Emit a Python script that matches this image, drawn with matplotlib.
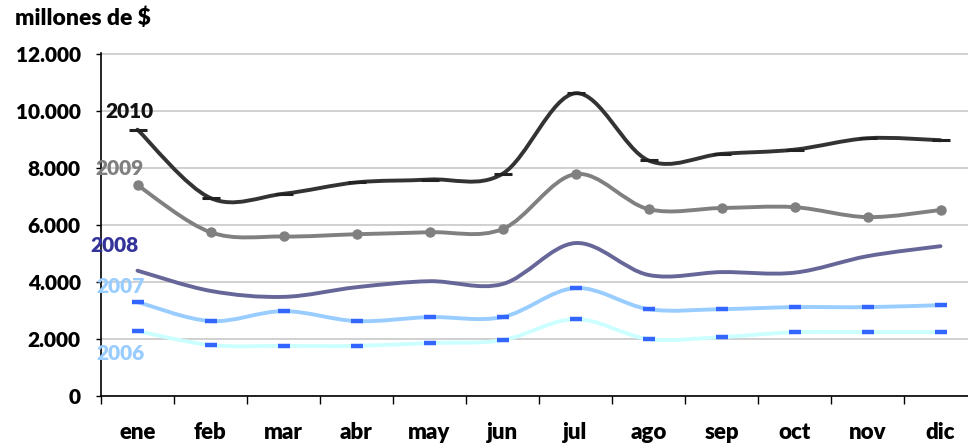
import matplotlib
matplotlib.use('Agg')
import matplotlib.pyplot as plt
from matplotlib.path import Path
from matplotlib.patches import PathPatch
import numpy as np

months = ['ene', 'feb', 'mar', 'abr', 'may', 'jun', 'jul', 'ago', 'sep', 'oct', 'nov', 'dic']
y2010 = [9350, 6950, 7100, 7500, 7600, 7800, 10630, 8270, 8500, 8650, 9050, 8980]
y2009 = [7400, 5750, 5600, 5680, 5750, 5860, 7790, 6560, 6600, 6630, 6280, 6530]
y2008 = [4400, 3690, 3480, 3820, 4030, 3930, 5370, 4250, 4350, 4330, 4910, 5260]
y2007 = [3300, 2630, 2980, 2630, 2770, 2770, 3790, 3050, 3050, 3120, 3120, 3190]
y2006 = [2280, 1790, 1760, 1760, 1860, 1960, 2700, 2000, 2070, 2240, 2240, 2240]
series_names = ['2010', '2009', '2008', '2007', '2006']
yticks = [0, 2000, 4000, 6000, 8000, 10000, 12000]
ytick_labels = ['0', '2.000', '4.000', '6.000', '8.000', '10.000', '12.000']

plt.rcParams['font.family'] = ['Lato', 'DejaVu Sans']
FW = 'heavy'


def smooth_path(xs, ys):
    pts = np.column_stack([xs, ys]).astype(float)
    n = len(pts)
    verts = [pts[0]]
    codes = [Path.MOVETO]
    for i in range(n - 1):
        p0 = pts[i - 1] if i > 0 else pts[i]
        p1 = pts[i]
        p2 = pts[i + 1]
        p3 = pts[i + 2] if i + 2 < n else pts[i + 1]
        c1 = p1 + (p2 - p0) / 6.0
        c2 = p2 - (p3 - p1) / 6.0
        verts += [c1, c2, p2]
        codes += [Path.CURVE4] * 3
    return Path(verts, codes)


W, H = 968, 446
fig = plt.figure(figsize=(W / 100, H / 100), dpi=100)
ax = fig.add_axes([101 / W, 50 / H, 876 / W, 343.5 / H])

x = np.arange(len(months))

styles = [
    (y2010, '#333333', dict(marker='_', ms=13, mew=2.2, mec='#222222')),
    (y2009, '#808080', dict(marker='o', ms=6.5, mec='#808080', mfc='#808080')),
    (y2008, '#666699', None),
    (y2007, '#99ccff', dict(marker='_', ms=9, mew=3.2, mec='#3366ff')),
    (y2006, '#ccffff', dict(marker='_', ms=9, mew=3.2, mec='#3366ff')),
]
for i, (vals, col, mk) in enumerate(styles):
    patch = PathPatch(smooth_path(x, vals), fill=False, edgecolor=col, lw=2.8,
                      capstyle='round', joinstyle='round', zorder=3 + (5 - i) * 0.1)
    ax.add_patch(patch)
    if mk is not None:
        ax.plot(x, vals, linestyle='none', zorder=4, **mk)

ax.set_xlim(-0.5, 11.5)
ax.set_ylim(0, 12060)

ax.set_yticks(yticks)
ax.set_yticklabels(ytick_labels, fontsize=15, fontweight=FW)
ax.tick_params(axis='y', direction='out', length=3.6, width=1, pad=11, colors='black')

ax.set_xticks(np.arange(-0.5, 12, 1))
ax.set_xticklabels([])
ax.tick_params(axis='x', which='major', direction='out', length=5.8, width=1, colors='black')
ax.set_xticks(x, minor=True)
ax.set_xticklabels(months, minor=True, fontsize=16, fontweight=FW)
ax.tick_params(axis='x', which='minor', length=0, pad=19)

ax.yaxis.grid(True, color='#c8c8c8', lw=1.2)
ax.set_axisbelow(True)
for s in ['top', 'right']:
    ax.spines[s].set_visible(False)
for s in ['left', 'bottom']:
    ax.spines[s].set_color('black')
    ax.spines[s].set_linewidth(1.2)

label_specs = [
    ('2010', -0.445, 10000, '#111111'),
    ('2009', -0.58, 8000, '#808080'),
    ('2008', -0.64, 5300, '#333399'),
    ('2007', -0.57, 3860, '#99ccff'),
    ('2006', -0.57, 1475, '#99ccff'),
]
for name, lx, ly, col in label_specs:
    ax.text(lx, ly, name, color=col, fontsize=15, fontweight=FW, ha='left',
            va='center', zorder=6, clip_on=False)

fig.text(15 / W, 1 - 18 / H, 'millones de $', fontsize=16.5, fontweight=FW,
         ha='left', va='center')

fig.savefig('out.png', dpi=100)
